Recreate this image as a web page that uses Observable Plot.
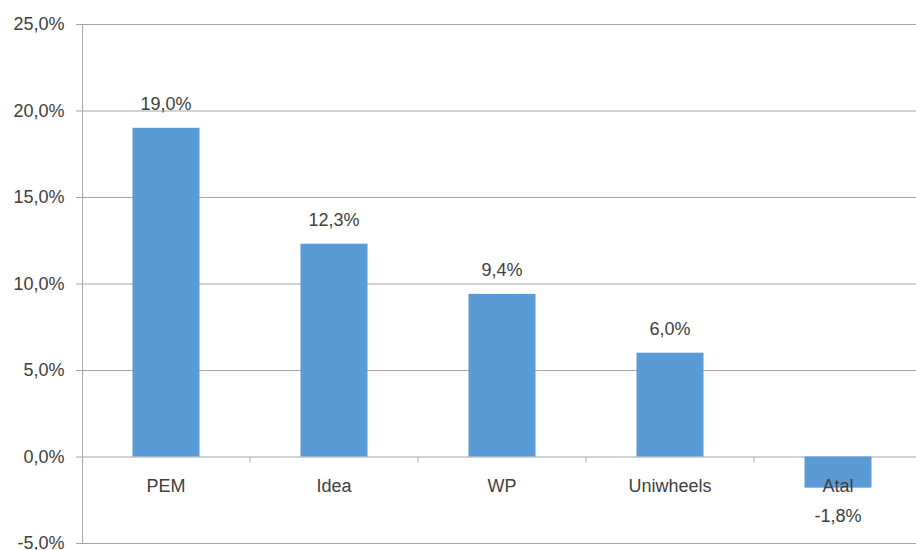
<!DOCTYPE html>
<html>
<head>
<meta charset="utf-8">
<script src="https://cdn.jsdelivr.net/npm/d3@7"></script>
<script src="https://cdn.jsdelivr.net/npm/@observablehq/plot@0.6"></script>
<style>
  html, body { margin: 0; padding: 0; background: #fff; overflow: hidden; }
  #chart svg { overflow: hidden; }
</style>
</head>
<body>
<div id="chart"></div>
<script>
const categories = ["PEM", "Idea", "WP", "Uniwheels", "Atal"];
const values = [19.0, 12.3, 9.4, 6.0, -1.8];
const yTicks = [-5, 0, 5, 10, 15, 20, 25];

const data = categories.map((c, i) => ({cat: c, value: values[i]}));
const fmt = d => d.toFixed(1).replace(".", ",") + "%";
const textColor = "#404040";
const gridColor = "#a6a6a6";
const font = "Liberation Sans, Arial, sans-serif";

const chart = Plot.plot({
  width: 916,
  height: 550,
  marginTop: 24,
  marginBottom: 7,
  marginLeft: 82,
  marginRight: -6,
  style: {fontFamily: font, color: textColor, background: "#fff"},
  x: {domain: categories, paddingInner: 0.6, paddingOuter: 0.3, axis: null},
  y: {domain: [-5, 25], axis: null},
  marks: [
    Plot.gridY(yTicks, {stroke: gridColor, strokeOpacity: 1, strokeWidth: 1}),
    Plot.axisY(yTicks, {
      tickFormat: fmt, tickSize: 6, tickPadding: 12, fontSize: 18,
      stroke: gridColor, fill: textColor, label: null
    }),
    Plot.frame({anchor: "left", stroke: gridColor, strokeOpacity: 1}),
    Plot.barY(data, {x: "cat", y: "value", fill: "#5B9BD5", dx: 0.5}),
    Plot.ruleX(categories.slice(1), {x: d => d, dx: -84, y1: 0, y2: -0.35, stroke: gridColor}),
    Plot.text(data, {x: "cat", y: 0, text: "cat", dy: 29, fontSize: 18, fill: textColor}),
    Plot.text(data.filter(d => d.value >= 0), {x: "cat", y: "value", text: d => fmt(d.value), dy: -24, fontSize: 18, fill: textColor}),
    Plot.text(data.filter(d => d.value < 0), {x: "cat", y: "value", text: d => fmt(d.value), dy: 28, fontSize: 18, fill: textColor})
  ]
});
document.getElementById("chart").appendChild(chart);
</script>
</body>
</html>
